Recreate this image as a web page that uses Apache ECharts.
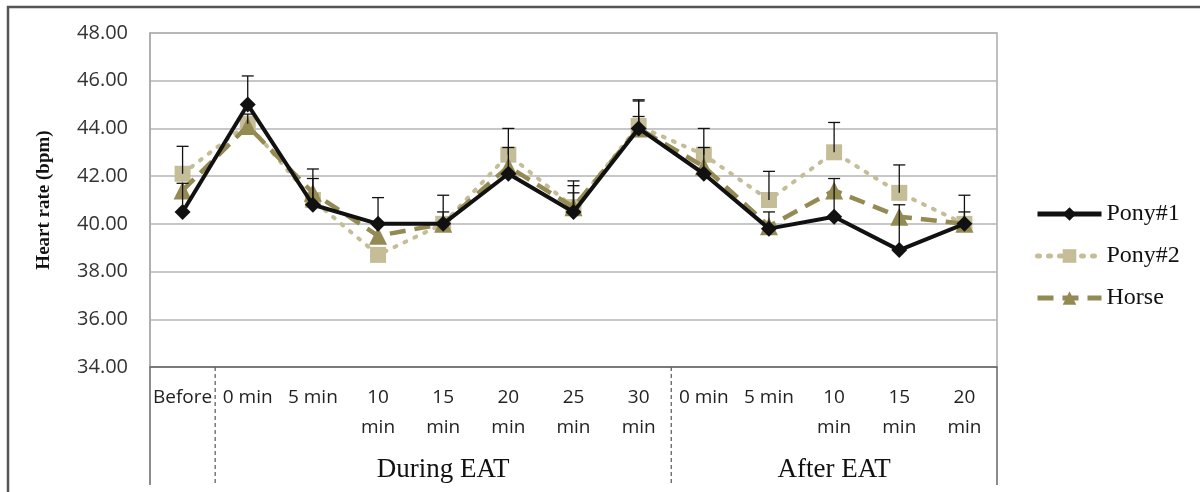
<!DOCTYPE html>
<html>
<head>
    <meta charset="utf-8">
    <title>Heart rate</title>
    <style>
        html, body { margin: 0; padding: 0; background: #fff; }
        #main { width: 1200px; height: 492px; }
    </style>
    <script src="https://cdn.jsdelivr.net/npm/echarts@6/dist/echarts.min.js"></script>
</head>
<body>
<div id="main"></div>
<script>
    // categories and groups
    var categories = ['Before', '0 min', '5 min', '10 min', '15 min', '20 min', '25 min', '30 min',
        '0 min', '5 min', '10 min', '15 min', '20 min'];
    var groupNames = ['During EAT', 'After EAT'];
    var groupStart = [1, 8];
    var groupEnd = [7, 12];

    // mean values
    var pony1 = [40.5, 45.0, 40.8, 40.0, 40.0, 42.1, 40.5, 44.0, 42.1, 39.8, 40.3, 38.9, 40.0];
    var pony2 = [42.1, 44.2, 41.0, 38.7, 40.0, 42.9, 40.7, 44.1, 42.9, 41.0, 43.0, 41.3, 40.0];
    var horse = [41.4, 44.1, 41.3, 39.5, 40.0, 42.4, 40.7, 44.0, 42.4, 39.9, 41.4, 40.3, 40.0];

    // upper error (SD)
    var pony1Sd = [1.2, 1.2, 1.1, 1.1, 1.2, 1.1, 1.1, 1.2, 1.1, 0.7, 1.6, 1.9, 1.2];
    var pony2Sd = [1.15, 0.4, 1.3, 0, 0.5, 1.1, 1.1, 1.05, 1.1, 1.2, 1.25, 1.17, 0.5];
    var horseSd = [0, 0, 0, 0, 0, 0, 0.6, 0.5, 0, 0, 0, 0, 0];

    var yTicks = [34, 48, 2];

    var chart = echarts.init(document.getElementById('main'));

    function errData(vals, sds) {
        var out = [];
        for (var i = 0; i < vals.length; i++) {
            if (sds[i] > 0) out.push([i, vals[i], vals[i] + sds[i]]);
        }
        return out;
    }
    var errAll = errData(pony1, pony1Sd).concat(errData(pony2, pony2Sd), errData(horse, horseSd));

    function renderErr(params, api) {
        var lo = api.coord([api.value(0), api.value(1)]);
        var hi = api.coord([api.value(0), api.value(2)]);
        var st = { stroke: '#111', lineWidth: 1.3 };
        return {
            type: 'group',
            children: [
                { type: 'line', shape: { x1: lo[0], y1: lo[1], x2: hi[0], y2: hi[1] }, style: st },
                { type: 'line', shape: { x1: hi[0] - 6, y1: hi[1], x2: hi[0] + 6, y2: hi[1] }, style: st }
            ]
        };
    }

    var option = {
        animation: false,
        backgroundColor: '#fff',
        grid: {
            left: 150, right: 203, top: 33, bottom: 125,
            show: true, borderColor: '#aaa', borderWidth: 1.5
        },
        legend: {
            orient: 'vertical',
            left: 1030,
            top: 197,
            itemWidth: 64,
            itemHeight: 17,
            itemGap: 18,
            lineStyle: { width: 5 },
            textStyle: { fontFamily: 'Liberation Serif', fontSize: 24, color: '#111' },
            data: ['Pony#1', 'Pony#2', 'Horse']
        },
        xAxis: {
            type: 'category',
            data: categories,
            boundaryGap: true,
            axisLine: { lineStyle: { color: '#666', width: 1.5 } },
            axisTick: { show: false },
            splitLine: { show: false },
            axisLabel: {
                interval: 0,
                margin: 16,
                fontFamily: 'Open Sans',
                fontSize: 19,
                color: '#222',
                lineHeight: 30,
                formatter: function (v) {
                    return /^\d\d /.test(v) ? v.replace(' ', '\n') : v;
                }
            }
        },
        yAxis: {
            type: 'value',
            min: yTicks[0],
            max: yTicks[1],
            interval: yTicks[2],
            name: 'Heart rate (bpm)',
            nameLocation: 'middle',
            nameRotate: 90,
            nameGap: 96,
            nameTextStyle: { fontFamily: 'Liberation Serif', fontWeight: 'bold', fontSize: 19, color: '#111' },
            axisLine: { show: true, lineStyle: { color: '#aaa', width: 1.5 } },
            axisTick: { show: false },
            splitLine: { lineStyle: { color: '#b5b5b5', width: 1.5 } },
            axisLabel: {
                margin: 22,
                fontFamily: 'Open Sans',
                fontSize: 20,
                color: '#333',
                formatter: function (v) { return v.toFixed(2); }
            }
        },
        series: [
            {
                name: 'Pony#2',
                type: 'line',
                data: pony2,
                symbol: 'rect',
                symbolSize: 16,
                itemStyle: { color: '#c4bd97' },
                lineStyle: { color: '#c4bd97', width: 4, type: [2, 9], cap: 'round' },
                z: 2
            },
            {
                name: 'Horse',
                type: 'line',
                data: horse,
                symbol: 'triangle',
                symbolSize: 18,
                itemStyle: { color: '#948a54' },
                lineStyle: { color: '#948a54', width: 4.5, type: [16, 9] },
                z: 3
            },
            {
                name: 'Pony#1',
                type: 'line',
                data: pony1,
                symbol: 'diamond',
                symbolSize: 16,
                itemStyle: { color: '#111' },
                lineStyle: { color: '#111', width: 4 },
                z: 4
            },
            {
                type: 'custom',
                renderItem: renderErr,
                data: errAll,
                encode: { x: 0, y: [1, 2] },
                z: 10,
                silent: true
            }
        ]
    };
    chart.setOption(option);

    // divider lines and group labels below the axis
    function drawGroups() {
        var yBottom = chart.convertToPixel({ yAxisIndex: 0 }, yTicks[0]);
        var step = chart.convertToPixel({ xAxisIndex: 0 }, 1) - chart.convertToPixel({ xAxisIndex: 0 }, 0);
        var yEnd = 485;
        var els = [];
        // outer frame
        els.push({ type: 'rect', shape: { x: 8, y: 7, width: 1220, height: 520 },
            style: { fill: null, stroke: '#555', lineWidth: 2.5 }, silent: true });
        var firstX = chart.convertToPixel({ xAxisIndex: 0 }, 0) - step / 2;
        var lastX = chart.convertToPixel({ xAxisIndex: 0 }, categories.length - 1) + step / 2;
        els.push({ type: 'line', shape: { x1: firstX, y1: yBottom, x2: firstX, y2: yEnd },
            style: { stroke: '#666', lineWidth: 1.5 } });
        els.push({ type: 'line', shape: { x1: lastX, y1: yBottom, x2: lastX, y2: yEnd },
            style: { stroke: '#666', lineWidth: 1.5 } });
        for (var g = 0; g < groupNames.length; g++) {
            var x0 = chart.convertToPixel({ xAxisIndex: 0 }, groupStart[g]) - step / 2;
            var x1 = chart.convertToPixel({ xAxisIndex: 0 }, groupEnd[g]) + step / 2;
            els.push({ type: 'line', shape: { x1: x0, y1: yBottom, x2: x0, y2: yEnd },
                style: { stroke: '#555', lineWidth: 1.2, lineDash: [4, 3] } });
            els.push({
                type: 'text', x: (x0 + x1) / 2, y: 470,
                style: { text: groupNames[g], fontFamily: 'Liberation Serif', fontSize: 27, fill: '#111',
                    textAlign: 'center', textVerticalAlign: 'middle' }
            });
        }
        chart.setOption({ graphic: els });
    }
    drawGroups();
</script>
</body>
</html>
